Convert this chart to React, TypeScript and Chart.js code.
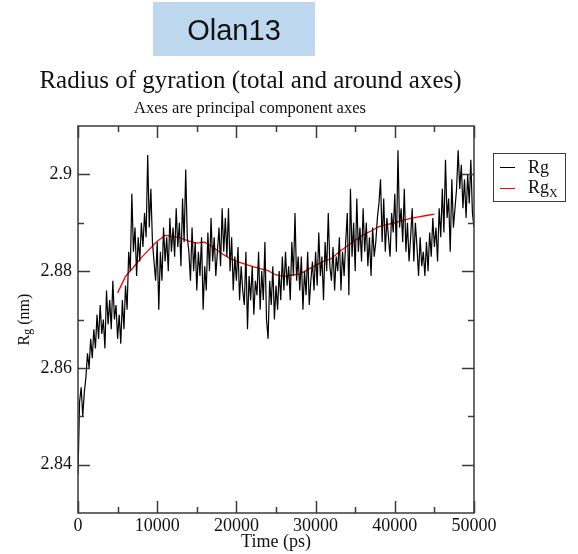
import React, { useEffect, useRef } from 'react';
import { Chart, registerables } from 'chart.js';

Chart.register(...registerables);

// ---- data ----
const HEADER_TEXT = 'Olan13';
const TITLE = 'Radius of gyration (total and around axes)';
const SUBTITLE = 'Axes are principal component axes';
const X_TITLE = 'Time (ps)';

const X_TICKS = [0, 10000, 20000, 30000, 40000, 50000];
const X_MINOR = [5000, 15000, 25000, 35000, 45000];
const Y_TICKS = [2.84, 2.86, 2.88, 2.9];
const Y_MINOR = [2.85, 2.87, 2.89];

// Rg (nm) sampled every 200 ps from 0 to 50000 ps
const RG_STEP = 200;
const RG = [
  2.838, 2.853, 2.856, 2.850, 2.855, 2.858, 2.863, 2.860, 2.866, 2.862,
  2.868, 2.864, 2.871, 2.866, 2.873, 2.867, 2.870, 2.864, 2.876, 2.869,
  2.874, 2.868, 2.878, 2.870, 2.873, 2.866, 2.871, 2.865, 2.874, 2.868,
  2.877, 2.872, 2.884, 2.880, 2.896, 2.884, 2.889, 2.879, 2.887, 2.882,
  2.890, 2.885, 2.892, 2.887, 2.904, 2.889, 2.897, 2.886, 2.882, 2.878,
  2.886, 2.872, 2.884, 2.878, 2.889, 2.882, 2.887, 2.880, 2.891, 2.884,
  2.889, 2.883, 2.893, 2.885, 2.890, 2.881, 2.895, 2.886, 2.901, 2.887,
  2.884, 2.878, 2.889, 2.880, 2.886, 2.876, 2.884, 2.879, 2.887, 2.872,
  2.881, 2.876, 2.888, 2.880, 2.891, 2.882, 2.887, 2.879, 2.884, 2.889,
  2.881, 2.893, 2.884, 2.891, 2.883, 2.893, 2.880, 2.887, 2.876, 2.883,
  2.878, 2.885, 2.874, 2.881, 2.876, 2.873, 2.884, 2.868, 2.879, 2.874,
  2.881, 2.871, 2.878, 2.875, 2.884, 2.872, 2.880, 2.874, 2.886, 2.870,
  2.866, 2.878, 2.873, 2.881, 2.870, 2.877, 2.872, 2.880, 2.874, 2.883,
  2.876, 2.884, 2.877, 2.881, 2.874, 2.886, 2.879, 2.892, 2.878, 2.883,
  2.876, 2.883, 2.872, 2.880, 2.875, 2.884, 2.873, 2.878, 2.882, 2.876,
  2.884, 2.877, 2.888, 2.879, 2.883, 2.874, 2.886, 2.880, 2.892, 2.881,
  2.878, 2.885, 2.876, 2.883, 2.880, 2.887, 2.876, 2.884, 2.879, 2.886,
  2.892, 2.875, 2.897, 2.883, 2.890, 2.880, 2.895, 2.884, 2.889, 2.882,
  2.893, 2.884, 2.890, 2.881, 2.887, 2.879, 2.889, 2.883, 2.886, 2.891,
  2.894, 2.899, 2.886, 2.895, 2.884, 2.891, 2.887, 2.883, 2.892, 2.888,
  2.896, 2.884, 2.905, 2.889, 2.893, 2.886, 2.897, 2.884, 2.890, 2.882,
  2.887, 2.893, 2.882, 2.890, 2.885, 2.879, 2.887, 2.881, 2.884, 2.879,
  2.886, 2.880, 2.888, 2.883, 2.891, 2.885, 2.889, 2.882, 2.893, 2.887,
  2.897, 2.888, 2.903, 2.891, 2.895, 2.884, 2.899, 2.889, 2.893, 2.897,
  2.905, 2.897, 2.902, 2.893, 2.899, 2.891, 2.900, 2.894, 2.903, 2.892,
  2.889,
];

// Rg_X (smoothed) every 1000 ps from 5000 to 45000 ps
const RGX_TIMES = [
  5000, 6000, 7000, 8000, 9000, 10000, 11000, 12000, 13000, 14000,
  15000, 16000, 17000, 18000, 19000, 20000, 21000, 22000, 23000, 24000,
  25000, 26000, 27000, 28000, 29000, 30000, 31000, 32000, 33000, 34000,
  35000, 36000, 37000, 38000, 39000, 40000, 41000, 42000, 43000, 44000,
  45000,
];
const RGX = [
  2.8755, 2.8789, 2.8808, 2.8828, 2.8845, 2.8862, 2.8874, 2.8872, 2.8868, 2.8862,
  2.8858, 2.8860, 2.8850, 2.8838, 2.8828, 2.8820, 2.8815, 2.8810, 2.8805, 2.8801,
  2.8792, 2.8789, 2.8792, 2.8794, 2.8803, 2.8812, 2.8820, 2.8826, 2.8840, 2.8852,
  2.8864, 2.8875, 2.8883, 2.8892, 2.8896, 2.8900, 2.8905, 2.8909, 2.8912, 2.8915,
  2.8918,
];

const SERIF = "'Liberation Serif', 'Times New Roman', 'DejaVu Serif', serif";
const SANS = "'Liberation Sans', Arial, 'DejaVu Sans', sans-serif";
const AXIS_COLOR = '#3a3a3a';

const decorPlugin = {
  id: 'decor',
  afterDatasetsDraw(chart: any) {
    const { ctx, chartArea: a, scales } = chart;
    const x = scales.x;
    const y = scales.y;
    ctx.save();
    ctx.strokeStyle = AXIS_COLOR;
    ctx.lineWidth = 1.5;
    ctx.strokeRect(a.left, a.top, a.right - a.left, a.bottom - a.top);
    const seg = (x1: number, y1: number, x2: number, y2: number) => {
      ctx.beginPath();
      ctx.moveTo(x1, y1);
      ctx.lineTo(x2, y2);
      ctx.stroke();
    };
    const MAJ = 12;
    const MIN = 6;
    X_TICKS.forEach((v) => {
      const p = Math.round(x.getPixelForValue(v)) + 0.5;
      seg(p, a.bottom, p, a.bottom - MAJ);
      seg(p, a.top, p, a.top + MAJ);
    });
    X_MINOR.forEach((v) => {
      const p = Math.round(x.getPixelForValue(v)) + 0.5;
      seg(p, a.bottom, p, a.bottom - MIN);
      seg(p, a.top, p, a.top + MIN);
    });
    Y_TICKS.forEach((v) => {
      const p = Math.round(y.getPixelForValue(v)) + 0.5;
      seg(a.left, p, a.left + MAJ, p);
      seg(a.right, p, a.right - MAJ, p);
    });
    Y_MINOR.forEach((v) => {
      const p = Math.round(y.getPixelForValue(v)) + 0.5;
      seg(a.left, p, a.left + MIN, p);
      seg(a.right, p, a.right - MIN, p);
    });
    ctx.restore();
  },
  afterDraw(chart: any) {
    const { ctx, chartArea: a } = chart;
    ctx.save();
    // header box
    ctx.fillStyle = '#bdd7ee';
    ctx.fillRect(153, 2, 162, 54);
    ctx.fillStyle = '#111';
    ctx.font = `29px ${SANS}`;
    ctx.textAlign = 'center';
    ctx.textBaseline = 'alphabetic';
    ctx.fillText(HEADER_TEXT, 234, 40);

    // titles
    ctx.fillStyle = '#111';
    ctx.font = `25px ${SERIF}`;
    ctx.fillText(TITLE, 250.5, 88);
    ctx.font = `16.5px ${SERIF}`;
    ctx.fillText(SUBTITLE, 250, 113);

    // x title
    ctx.font = `18px ${SERIF}`;
    ctx.fillText(X_TITLE, (a.left + a.right) / 2, 547);

    // y title: R_g (nm), rotated
    ctx.save();
    ctx.translate(29, (a.top + a.bottom) / 2);
    ctx.rotate(-Math.PI / 2);
    ctx.textAlign = 'left';
    const big = `16px ${SERIF}`;
    const small = `12px ${SERIF}`;
    ctx.font = big;
    const wR = ctx.measureText('R').width;
    const wRest = ctx.measureText(' (nm)').width;
    ctx.font = small;
    const wg = ctx.measureText('g').width;
    let sx = -(wR + wg + wRest) / 2;
    ctx.font = big;
    ctx.fillText('R', sx, 0);
    sx += wR;
    ctx.font = small;
    ctx.fillText('g', sx, 2);
    sx += wg;
    ctx.font = big;
    ctx.fillText(' (nm)', sx, 0);
    ctx.restore();

    // legend
    ctx.strokeStyle = AXIS_COLOR;
    ctx.lineWidth = 1;
    ctx.strokeRect(493.5, 153.5, 72, 48);
    ctx.strokeStyle = '#000';
    ctx.beginPath();
    ctx.moveTo(500, 167.5);
    ctx.lineTo(515, 167.5);
    ctx.stroke();
    ctx.strokeStyle = '#ff0000';
    ctx.beginPath();
    ctx.moveTo(500, 188.5);
    ctx.lineTo(515, 188.5);
    ctx.stroke();
    ctx.fillStyle = '#111';
    ctx.textAlign = 'left';
    ctx.font = `18px ${SERIF}`;
    ctx.fillText('Rg', 528, 173);
    ctx.fillText('Rg', 528, 193);
    const wRg = ctx.measureText('Rg').width;
    ctx.font = `12px ${SERIF}`;
    ctx.fillText('X', 528 + wRg, 197);
    ctx.restore();
  },
};

export default function App() {
  const ref = useRef<HTMLCanvasElement | null>(null);
  useEffect(() => {
    if (!ref.current) return;
    const tickFont = { family: SERIF, size: 18 };
    const chart = new Chart(ref.current, {
      type: 'line',
      data: {
        datasets: [
          {
            label: 'Rg',
            data: RG.map((v, i) => ({ x: i * RG_STEP, y: v })),
            borderColor: '#000000',
            borderWidth: 1.2,
            pointRadius: 0,
            tension: 0,
            fill: false,
          },
          {
            label: 'RgX',
            data: RGX.map((v, i) => ({ x: RGX_TIMES[i], y: v })),
            borderColor: '#ff0000',
            borderWidth: 1.3,
            pointRadius: 0,
            tension: 0,
            fill: false,
          },
        ],
      },
      options: {
        responsive: false,
        animation: false,
        events: [],
        layout: { padding: { left: 0, top: 126, right: 104, bottom: 0 } },
        plugins: {
          legend: { display: false },
          title: { display: false },
          tooltip: { enabled: false },
        },
        scales: {
          x: {
            type: 'linear',
            min: 0,
            max: 50000,
            afterBuildTicks: (s: any) => {
              s.ticks = X_TICKS.map((v) => ({ value: v }));
            },
            afterFit: (s: any) => {
              s.height = 41;
            },
            ticks: {
              font: tickFont,
              color: '#111',
              padding: 2,
              maxRotation: 0,
              autoSkip: false,
              callback: (v: any) => String(v),
            },
            grid: { display: false, drawTicks: false },
            border: { display: false },
          },
          y: {
            type: 'linear',
            min: 2.83,
            max: 2.91,
            afterBuildTicks: (s: any) => {
              s.ticks = Y_TICKS.map((v) => ({ value: v }));
            },
            afterFit: (s: any) => {
              s.width = 78;
            },
            ticks: {
              font: tickFont,
              color: '#111',
              padding: 6,
              autoSkip: false,
              callback: (v: any) => String(v),
            },
            grid: { display: false, drawTicks: false },
            border: { display: false },
          },
        },
      },
      plugins: [decorPlugin],
    });
    return () => chart.destroy();
  }, []);
  return (
    <div style={{ position: 'fixed', left: 0, top: 0, width: 578, height: 554, background: '#fff' }}>
      <canvas ref={ref} width={578} height={554} style={{ width: 578, height: 554, display: 'block' }} />
    </div>
  );
}
